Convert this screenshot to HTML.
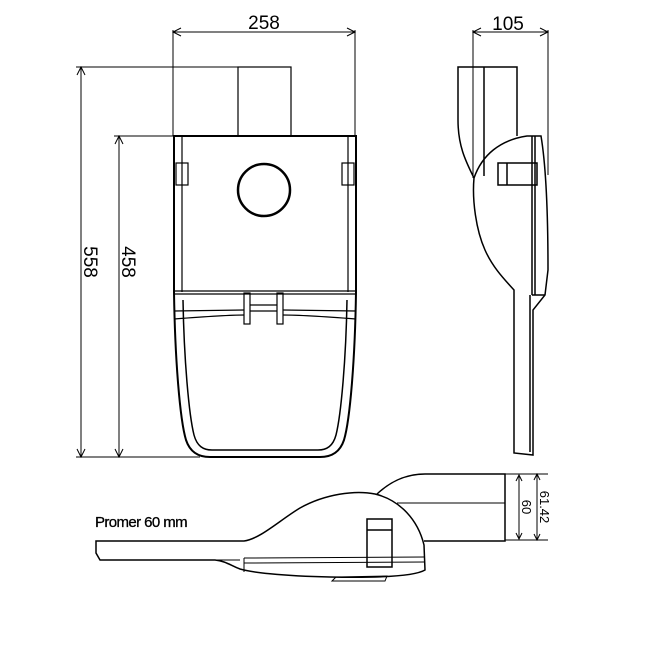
<!DOCTYPE html>
<html><head><meta charset="utf-8"><style>body{margin:0;background:#fff}svg{display:block}</style></head><body>
<svg width="668" height="668" viewBox="0 0 668 668" xmlns="http://www.w3.org/2000/svg" fill="none" stroke="#000" font-family="Liberation Sans, sans-serif">
<g stroke-width="1">
<line x1="173" y1="32" x2="355" y2="32"/><path d="M181 28 L173 32 L181 36 M347 28 L355 32 L347 36"/>
<line x1="173" y1="30" x2="173" y2="136"/><line x1="355" y1="30" x2="355" y2="136"/>
<line x1="76" y1="67" x2="238" y2="67"/><line x1="114" y1="136" x2="173" y2="136"/>
<line x1="76" y1="457" x2="200" y2="457"/>
<line x1="81" y1="67" x2="81" y2="457"/><line x1="119" y1="136" x2="119" y2="457"/>
<path d="M77 449 L81 457 L85 449 M115 449 L119 457 L123 449 M77 75 L81 67 L85 75 M115 144 L119 136 L123 144"/>
</g>
<text x="264" y="29" font-size="19" fill="#000" stroke="none" text-anchor="middle">258</text>
<text transform="translate(84,262) rotate(90)" font-size="19" fill="#000" stroke="none" text-anchor="middle">558</text>
<text transform="translate(122,262) rotate(90)" font-size="19" fill="#000" stroke="none" text-anchor="middle">458</text>
<rect x="238" y="67" width="53" height="69" stroke-width="1.2"/>
<g stroke-width="2">
<path d="M174 136 L174 292 C175 360 180 420 186 440 C190 452 198 457 210 457 L320 457 C332 457 340 452 344 440 C350 420 355 360 356 292 L356 136 Z"/>
<path d="M183 300 C184 360 189 415 194 435 C197 446 203 450 212 450 L318 450 C327 450 333 446 336 435 C341 415 346 360 347 300" stroke-width="1.5"/>
</g>
<g stroke-width="1.2">
<line x1="174" y1="136" x2="356" y2="136"/>
<line x1="182" y1="136" x2="182" y2="292"/><line x1="348" y1="136" x2="348" y2="292"/>
<rect x="176" y="163" width="12" height="22"/><rect x="342" y="163" width="12" height="22"/>
<line x1="174" y1="291" x2="356" y2="291"/><line x1="174" y1="294" x2="356" y2="294"/>
<path d="M174 311 L244 310 M283 310 L356 311 M174 319 C200 317 230 315 244 315 M283 315 C300 315 330 317 356 319"/>
<rect x="244" y="293" width="6" height="31"/><rect x="277" y="293" width="6" height="31"/>
<line x1="250" y1="305" x2="277" y2="305"/><line x1="250" y1="311" x2="277" y2="311"/>
</g>
<circle cx="264" cy="190" r="26" stroke-width="2.5"/>
<g stroke-width="1">
<line x1="473" y1="32" x2="548" y2="32"/><path d="M481 28 L473 32 L481 36 M540 28 L548 32 L540 36"/>
<line x1="473" y1="30" x2="473" y2="178"/><line x1="548" y1="30" x2="548" y2="175"/>
</g>
<text x="508" y="30" font-size="19" fill="#000" stroke="none" text-anchor="middle">105</text>
<g stroke-width="1.5">
<path d="M517 136 L517 67 L458 67 L458 120 C458 145 465 160 474 178"/>
<line x1="484" y1="67" x2="484" y2="176"/>
<path d="M474 178 C482 155 500 140 527 136 L541 136 C545 160 548 200 548 270 L545 295 L533 310 L533 455 L514 453 L514 290 C505 280 493 268 485 250 C476 230 472 200 474 178 Z"/>
<line x1="532" y1="136" x2="532" y2="295"/><line x1="535" y1="136" x2="535" y2="295"/>
<line x1="530" y1="295" x2="530" y2="452"/><line x1="532" y1="295" x2="545" y2="295"/>
<rect x="498" y="163" width="39" height="22"/><line x1="507" y1="163" x2="507" y2="185"/>
</g>
<text x="95" y="527" font-size="15" fill="#000" stroke="#000" stroke-width="0.3" letter-spacing="-0.6">Promer 60 mm</text>
<g stroke-width="1.5">
<path d="M377 494 C390 482 405 474 425 474 L505 474 L505 541 L424 541"/>
<line x1="397" y1="503" x2="505" y2="503" stroke-width="1"/>
<path d="M96 541 L244 541 C260 539 280 520 300 508 C325 494 355 490 375 494 C400 500 418 520 424 545 L425 570 C415 576 380 578 330 577 C280 576 250 572 240 569 C230 565 225 561 215 560 L100 560 L96 553 Z"/>
<path d="M215 560 L240 560 M244 558 L425 557 M244 563 L425 562" stroke-width="1"/>
<line x1="244" y1="558" x2="244" y2="572" stroke-width="1"/>
<rect x="367" y="519" width="25" height="48"/><line x1="367" y1="530" x2="392" y2="530"/>
<path d="M332 581 L336 577 L387 576 L385 581 Z" stroke-width="1"/>
</g>
<g stroke-width="1">
<line x1="505" y1="474" x2="548" y2="474"/><line x1="505" y1="540" x2="548" y2="540"/>
<line x1="519" y1="475" x2="519" y2="539"/><line x1="537" y1="474" x2="537" y2="540"/>
<path d="M516 481 L519 475 L522 481 M516 533 L519 539 L522 533 M534 480 L537 474 L540 480 M534 534 L537 540 L540 534"/>
</g>
<text transform="translate(522,507) rotate(90)" font-size="13" fill="#000" stroke="none" text-anchor="middle">60</text>
<text transform="translate(540,507) rotate(90)" font-size="13" fill="#000" stroke="none" text-anchor="middle">61.42</text>
</svg>
</body></html>
